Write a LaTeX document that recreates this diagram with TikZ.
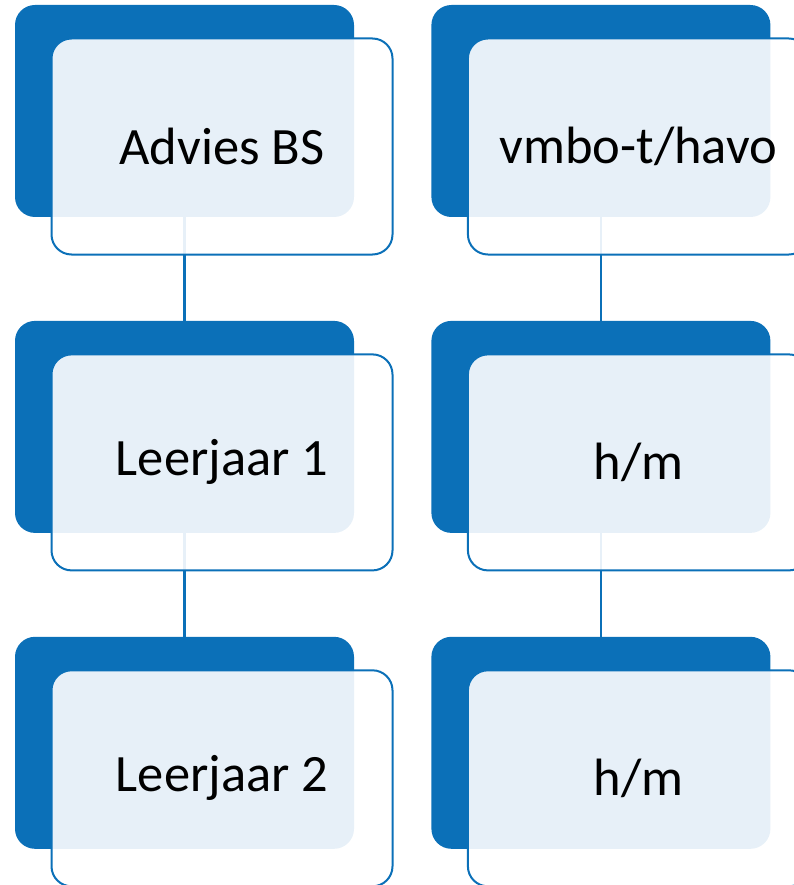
\documentclass[tikz,border=0pt]{standalone}
\usepackage{fontspec}
\setmainfont{Carlito}
\usetikzlibrary{positioning}
\definecolor{boxblue}{RGB}{11,112,184}
\begin{document}
\begin{tikzpicture}[x=1pt,y=-1pt,
	back/.style={fill=boxblue, rounded corners=20pt, minimum width=339pt, minimum height=212pt, inner sep=0pt},
	front/.style={draw=boxblue, line width=2pt, fill=white, fill opacity=0.9, text opacity=1,
		rounded corners=20pt, minimum width=341pt, minimum height=216pt, inner sep=0pt,
		font=\fontsize{52.5}{60}\selectfont},
	link/.style={draw=boxblue, line width=2.5pt}]
	\useasboundingbox (0,0) rectangle (794,885);
	\clip (0,0) rectangle (794,885);
	% back boxes
	\node [back] (advies) at (184.5,111) {};
	\node [back, below=103.5pt of advies] (leer1) {};
	\node [back, below=103.5pt of leer1]  (leer2) {};
	\node [back, right=77pt of advies] (niveau) {};
	\node [back, right=77pt of leer1]  (hm1) {};
	\node [back, right=77pt of leer2]  (hm2) {};
	% connectors
	\draw [link] (advies) -- (leer1);
	\draw [link] (leer1) -- (leer2);
	\draw [link] (niveau) -- (hm1);
	\draw [link] (hm1) -- (hm2);
	% front boxes
	\foreach \b/\t in {advies/Advies BS, leer1/Leerjaar 1, leer2/Leerjaar 2,
			niveau/vmbo-t\slash havo, hm1/h\slash m, hm2/h\slash m}{%
		\node [front] (f\b) at ([xshift=37.5pt,yshift=-35.5pt]\b.center) {\t};
		}
\end{tikzpicture}
\end{document}
